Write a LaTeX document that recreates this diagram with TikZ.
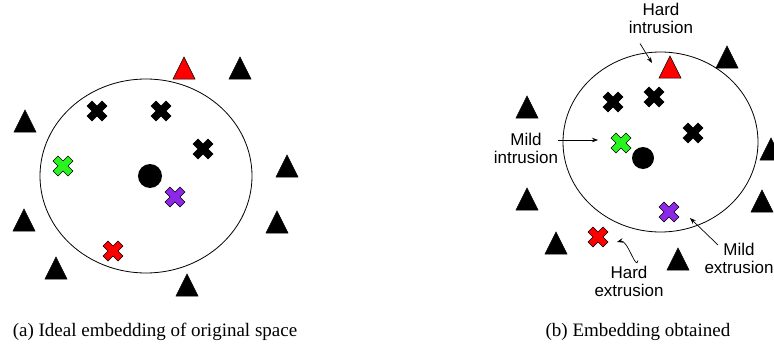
\documentclass[tikz,border=0pt]{standalone}
\usepackage{fontspec}
\setmainfont{Liberation Serif}
\newfontfamily\lblfont{Liberation Sans}
\usetikzlibrary{arrows.meta}
\definecolor{hardred}{RGB}{255,0,0}
\definecolor{mildgreen}{RGB}{40,245,30}
\definecolor{extpurple}{RGB}{140,40,230}
% triangulo: x, y, color
\newcommand{\trimark}[3]{\filldraw[fill=#3, draw=black, line width=0.5pt]
  (#1-11,#2+11) -- (#1,#2-11) -- (#1+11,#2+11) -- cycle;}
% cruz: x, y, color
\newcommand{\crossmark}[3]{\filldraw[fill=#3, draw=black, line width=0.5pt, shift={(#1,#2)}]
  (0,5) -- (5,10) -- (10,5) -- (5,0) -- (10,-5) -- (5,-10) -- (0,-5)
  -- (-5,-10) -- (-10,-5) -- (-5,0) -- (-10,5) -- (-5,10) -- cycle;}
\begin{document}
\begin{tikzpicture}[x=1pt, y=-1pt,
  lbl/.style={font=\lblfont\fontsize{17}{18}\selectfont, align=center, inner sep=0pt},
  capt/.style={font=\fontsize{19}{20}\selectfont, inner sep=0pt, anchor=base},
  pointer/.style={-{Stealth[length=6pt,width=4.5pt]}, line width=0.7pt}]
  \useasboundingbox (0,0) rectangle (774,348);
  % (a) el espacio ideal
  \draw[line width=0.8pt] (146,176) ellipse [x radius=106, y radius=97];
  \trimark{184}{68}{hardred}
  \foreach \tx/\ty in {240/68, 25/121, 287/166, 24/220, 277/222, 56/268, 187/285}
    {\trimark{\tx}{\ty}{black}}
  \foreach \cx/\cy in {97/111, 161/111, 203/149}
    {\crossmark{\cx}{\cy}{black}}
  \crossmark{63}{166}{mildgreen}
  \crossmark{175}{197}{extpurple}
  \crossmark{113}{251}{hardred}
  \fill (150,176) circle (12);
  % (b) el espacio obtenido
  \draw[line width=0.8pt] (660.5,142) ellipse [x radius=97.5, y radius=90];
  \trimark{670}{67}{hardred}
  \foreach \tx/\ty in {727/57, 527/107, 771/149, 527/199, 762/201, 556/243, 678/259}
    {\trimark{\tx}{\ty}{black}}
  \foreach \cx/\cy in {613/102, 654/97, 693/133}
    {\crossmark{\cx}{\cy}{black}}
  \crossmark{621}{143}{mildgreen}
  \crossmark{669}{212}{extpurple}
  \crossmark{598}{237}{hardred}
  \fill (643,158) circle (11);
  % las etiquetas
  \node[lbl, anchor=north] (hardin) at (661,2.6) {Hard\\intrusion};
  \node[lbl, anchor=north] (mildin) at (526,132.6) {Mild\\intrusion};
  \node[lbl, anchor=north] (mildex) at (739,242.6) {Mild\\extrusion};
  \node[lbl, anchor=north] (hardex) at (629,265.6) {Hard\\extrusion};
  \coordinate (hitip) at (652,63);
  \coordinate (mitip) at (598,140);
  \coordinate (metip) at (690,218);
  \coordinate (hetip) at (617,242);
  \draw[pointer] ([xshift=-21pt,yshift=-10pt]hardin.south) -- (hitip);
  \draw[pointer] (mildin.east |- mitip) -- (mitip);
  \draw[pointer] ([xshift=-21pt,yshift=-2.4pt]mildex.north) -- (metip);
  \draw[pointer] ([xshift=9pt,yshift=5pt]hardex.north) to[out=-100, in=15] (hetip);
  % los pies
  \node[capt] (capa) at (155,336) {(a) Ideal embedding of original space};
  \node[capt] (capb) at (638,336) {(b) Embedding obtained};
\end{tikzpicture}
\end{document}
